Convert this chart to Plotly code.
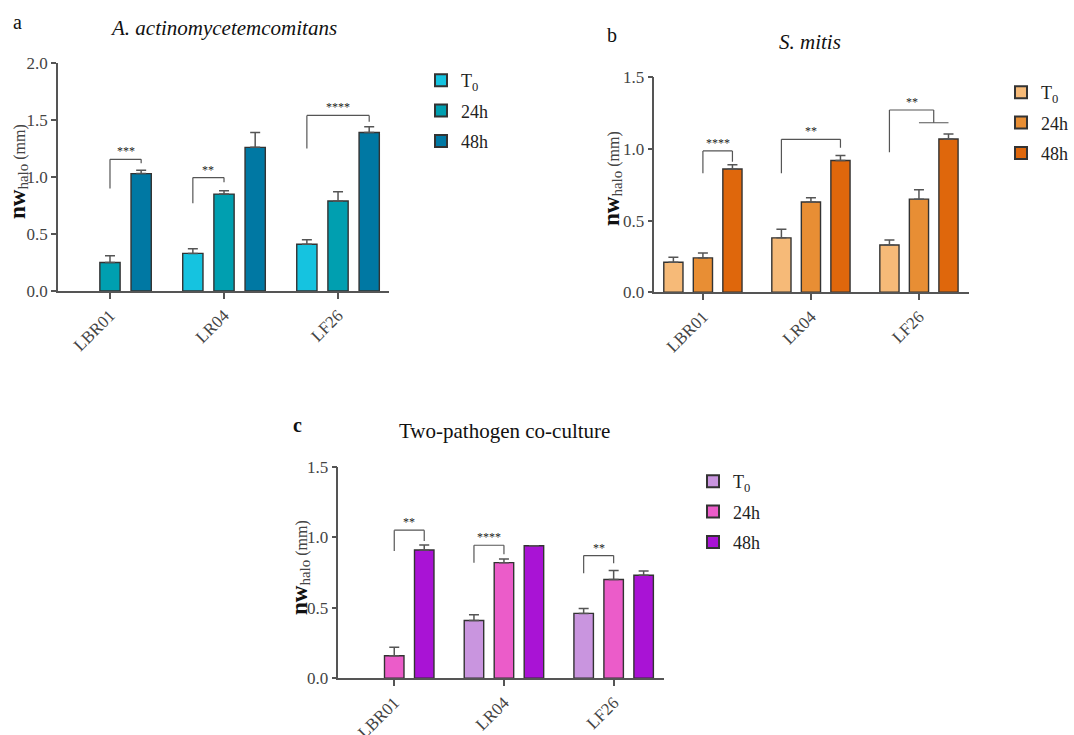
import plotly.graph_objects as go

# ---------------- data ----------------
categories = ["LBR01", "LR04", "LF26"]
series_names = ["T<sub>0</sub>", "24h", "48h"]

# Panel a: A. actinomycetemcomitans
a_T0 = [None, 0.33, 0.41]
a_24 = [0.25, 0.85, 0.79]
a_48 = [1.03, 1.26, 1.39]
a_T0_err = [0, 0.04, 0.04]
a_24_err = [0.06, 0.03, 0.08]
a_48_err = [0.03, 0.13, 0.05]

# Panel b: S. mitis
b_T0 = [0.21, 0.38, 0.33]
b_24 = [0.24, 0.63, 0.65]
b_48 = [0.86, 0.92, 1.07]
b_T0_err = [0.035, 0.06, 0.035]
b_24_err = [0.035, 0.03, 0.065]
b_48_err = [0.03, 0.035, 0.035]

# Panel c: Two-pathogen co-culture
c_T0 = [None, 0.41, 0.46]
c_24 = [0.16, 0.82, 0.70]
c_48 = [0.91, 0.94, 0.73]
c_T0_err = [0, 0.04, 0.035]
c_24_err = [0.06, 0.025, 0.065]
c_48_err = [0.035, 0.0, 0.03]

# significance brackets: (category index, from series, to series(es), left leg bottom, top, right leg bottom, label)
a_brackets = [(0, 1, 2, 0.90, 1.155, 1.12, "***"),
              (1, 0, 1, 0.77, 0.995, 0.955, "**"),
              (2, 0, 2, 1.25, 1.54, 1.485, "****")]
b_brackets = [(0, 1, 2, 0.83, 0.986, 0.91, "****"),
              (1, 0, 2, 0.83, 1.067, 1.009, "**"),
              (2, 0, (1, 2), 0.977, 1.272, 1.183, "**")]
c_brackets = [(0, 1, 2, 0.903, 1.05, 0.974, "**"),
              (1, 0, 1, 0.82, 0.943, 0.88, "****"),
              (2, 0, 1, 0.745, 0.87, 0.816, "**")]

a_colors = ["#15C3E0", "#009FB0", "#0078A3"]
b_colors = ["#F6BA78", "#E88E34", "#DF670C"]
c_colors = ["#C995DF", "#EB5CC9", "#A913D5"]

# ---------------- styling ----------------
FONT = "Liberation Serif"
BARGAP = 0.18
BARGROUPGAP = 0.35
W, H = 1074, 735
SLOT = (1 - BARGAP) / 3

fig = go.Figure()

panels = [
    dict(vals=[a_T0, a_24, a_48], errs=[a_T0_err, a_24_err, a_48_err], colors=a_colors,
         xa="x", ya="y", legend="legend", brackets=a_brackets),
    dict(vals=[b_T0, b_24, b_48], errs=[b_T0_err, b_24_err, b_48_err], colors=b_colors,
         xa="x2", ya="y2", legend="legend2", brackets=b_brackets),
    dict(vals=[c_T0, c_24, c_48], errs=[c_T0_err, c_24_err, c_48_err], colors=c_colors,
         xa="x3", ya="y3", legend="legend3", brackets=c_brackets),
]

line_col = "#555555"
shapes = []
annotations = []

for pi, p in enumerate(panels):
    for si in range(3):
        fig.add_trace(go.Bar(
            x=categories, y=p["vals"][si], name=series_names[si],
            marker=dict(color=p["colors"][si], line=dict(color="#333333", width=1.4)),
            error_y=dict(type="data", array=p["errs"][si], arrayminus=[0] * 3,
                         symmetric=False, color="#555555", thickness=1.5, width=5),
            xaxis=p["xa"], yaxis=p["ya"], legend=p["legend"],
            legendgroup=f"g{pi}{si}",
        ))
    for (ci, s_from, s_to, yl, yt, yr, lab) in p["brackets"]:
        x_left = ci + (s_from - 1) * SLOT
        if isinstance(s_to, tuple):
            xs = [ci + (s - 1) * SLOT for s in s_to]
            x_right = sum(xs) / len(xs)
        else:
            xs = None
            x_right = ci + (s_to - 1) * SLOT
        segs = [(x_left, yl, x_left, yt), (x_left, yt, x_right, yt), (x_right, yt, x_right, yr)]
        if xs is not None:
            segs.append((xs[0], yr, xs[1], yr))
        for (x0, y0, x1, y1) in segs:
            shapes.append(dict(type="line", xref=p["xa"], yref=p["ya"], x0=x0, y0=y0, x1=x1, y1=y1,
                               line=dict(color=line_col, width=1.2)))
        annotations.append(dict(x=(x_left + x_right) / 2, y=yt, xref=p["xa"], yref=p["ya"],
                                text=lab, showarrow=False, yanchor="middle", yshift=8,
                                font=dict(family=FONT, size=12, color="#222222")))

def px_x(v):
    return v / W

def px_y(v):
    return 1 - v / H

axis_common = dict(showline=True, linecolor=line_col, linewidth=1.5, ticks="outside",
                   tickcolor=line_col, tickwidth=1.5, showgrid=False, zeroline=False,
                   automargin=False)

xt_font = dict(family=FONT, size=17, color="#444444")
yt_font = dict(family=FONT, size=17, color="#444444")

layout_axes = dict(
    xaxis=dict(domain=[px_x(58), px_x(389)], range=[-0.456, 2.447], anchor="y",
               tickangle=-45, ticklen=6, tickfont=xt_font, **axis_common),
    yaxis=dict(domain=[px_y(291), px_y(63)], range=[0, 2.0], anchor="x", dtick=0.5, tickformat=".1f",
               ticklen=5, tickfont=yt_font, **axis_common),
    xaxis2=dict(domain=[px_x(654.3), px_x(969.3)], range=[-0.45, 2.466], anchor="y2",
                tickangle=-45, ticklen=6, tickfont=xt_font, **axis_common),
    yaxis2=dict(domain=[px_y(292.3), px_y(77.3)], range=[0, 1.5], anchor="x2", dtick=0.5, tickformat=".1f",
                ticklen=5, tickfont=yt_font, **axis_common),
    xaxis3=dict(domain=[px_x(338.3), px_x(664)], range=[-0.51, 2.459], anchor="y3",
                tickangle=-45, ticklen=6, tickfont=xt_font, **axis_common),
    yaxis3=dict(domain=[px_y(678.3), px_y(466.7)], range=[0, 1.5], anchor="x3", dtick=0.5, tickformat=".1f",
                ticklen=5, tickfont=yt_font, **axis_common),
)

ytitle = ('<span style="font-size:23px;color:#111111"><b>nw</b></span>'
          '<sub><span style="font-size:15px">halo</span></sub> (mm)')

# titles, panel letters, y-axis titles (pixel positions)
text_items = [
    ("a", 17, 22, 20, False, 0),
    ("b", 612, 35, 20, False, 0),
    ("<b>c</b>", 297, 425, 20, False, 0),
    ("<i>A. actinomycetemcomitans</i>", 223, 28, 21, False, 0),
    ("<i>S. mitis</i>", 810, 42, 21, False, 0),
    ("Two-pathogen co-culture", 504, 431, 21, False, 0),
    (ytitle, 18, 172, 16, True, -90),
    (ytitle, 612, 179, 16, True, -90),
    (ytitle, 300, 568, 16, True, -90),
]
for (txt, x, y, size, is_ax, ang) in text_items:
    annotations.append(dict(x=px_x(x), y=px_y(y), xref="paper", yref="paper", text=txt,
                            showarrow=False, xanchor="center", yanchor="middle", textangle=ang,
                            font=dict(family=FONT, size=size, color="#444444" if is_ax else "#111111")))

legend_common = dict(font=dict(family=FONT, size=18, color="#222222"), bgcolor="rgba(0,0,0,0)",
                     tracegroupgap=4, xanchor="left", yanchor="top", itemsizing="constant")

fig.update_layout(
    template="none",
    width=W, height=H,
    margin=dict(l=0, r=0, t=0, b=0, autoexpand=False),
    paper_bgcolor="white", plot_bgcolor="white",
    barmode="group", bargap=BARGAP, bargroupgap=BARGROUPGAP,
    shapes=shapes, annotations=annotations,
    legend=dict(x=px_x(421), y=px_y(62), **legend_common),
    legend2=dict(x=px_x(1001), y=px_y(74), **legend_common),
    legend3=dict(x=px_x(693), y=px_y(463), **legend_common),
    **layout_axes,
)

fig.write_html("out.html", config={"displayModeBar": False},
               post_script="document.body.style.margin='0';document.body.style.overflow='hidden';")
